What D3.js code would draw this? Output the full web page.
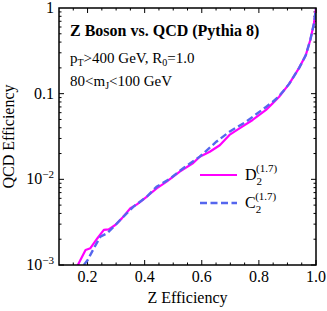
<!DOCTYPE html>
<html><head><meta charset="utf-8">
<script src="https://cdn.jsdelivr.net/npm/d3@7"></script>
<style>body{margin:0;background:#fff}svg{display:block}</style>
</head><body><svg id="c" width="327" height="311"></svg>
<script>
// Z efficiency (x) and QCD efficiency (y)
const d2X = [0.166,0.193,0.21,0.234,0.257,0.274,0.297,0.32,0.35,0.373,0.408,0.442,0.477,0.523,0.57,0.593,0.628,0.663,0.697,0.732,0.778,0.825,0.848,0.871,0.906,0.941,0.964,0.98,0.993,1.0];
const d2Y = [1.0e-3,1.5e-3,1.57e-3,2.04e-3,2.57e-3,2.61e-3,2.93e-3,3.5e-3,4.6e-3,5.1e-3,6.3e-3,7.85e-3,9.4e-3,1.23e-2,1.55e-2,1.84e-2,2.1e-2,2.5e-2,3.3e-2,3.94e-2,4.93e-2,6.45e-2,7.7e-2,9.2e-2,0.13,0.2,0.28,0.423,0.662,1.0];
const c2X = [0.187,0.201,0.222,0.245,0.268,0.292,0.32,0.361,0.408,0.442,0.489,0.535,0.593,0.651,0.697,0.755,0.825,0.848,0.871,0.906,0.941,0.964,0.98,0.993,1.0];
const c2Y = [1.0e-3,1.15e-3,1.57e-3,2.14e-3,2.34e-3,2.8e-3,3.5e-3,4.8e-3,6.3e-3,8.2e-3,1.02e-2,1.35e-2,1.84e-2,2.75e-2,3.6e-2,4.7e-2,7.0e-2,8.0e-2,9.4e-2,0.13,0.2,0.28,0.423,0.662,1.0];
const xTicks = [0.2,0.4,0.6,0.8,1.0];
const xTickLabels = ["0.2","0.4","0.6","0.8","1.0"];
const yTicks = [1e-3,1e-2,0.1,1];
const yTickLabels = [["10","\u22123"],["10","\u22122"],["0.1",""],["1",""]];
const seriesNames = [["D","2","(1.7)"],["C","2","(1.7)"]];
const titleLines = ["Z Boson vs. QCD (Pythia 8)"];

const FF = "Liberation Serif";
const svg = d3.select("#c");
const L=59,R=316,T=8,B=265;
const x = d3.scaleLinear().domain([0.1,1.0]).range([L,R]);
const y = d3.scaleLog().domain([1e-3,1]).range([B,T]);

const g = svg.append("g");
const xMinor = d3.range(0.15,1.0001,0.05).map(v=>+v.toFixed(2));
xMinor.forEach(v=>{
  const major = xTicks.some(t=>Math.abs(t-v)<1e-6);
  const len = major?5:2.5;
  g.append("line").attr("x1",x(v)).attr("x2",x(v)).attr("y1",B).attr("y2",B-len).attr("stroke","#000").attr("stroke-width",1);
  g.append("line").attr("x1",x(v)).attr("x2",x(v)).attr("y1",T).attr("y2",T+len).attr("stroke","#000").attr("stroke-width",1);
});
const yMinor = [];
[1e-3,1e-2,1e-1].forEach(d=>{for(let k=1;k<10;k++) yMinor.push(d*k);});
yMinor.forEach(v=>{
  const major = yTicks.some(t=>Math.abs(t-v)/t<1e-6);
  const len = major?5:2.5;
  g.append("line").attr("x1",L).attr("x2",L+len).attr("y1",y(v)).attr("y2",y(v)).attr("stroke","#000").attr("stroke-width",1);
  g.append("line").attr("x1",R).attr("x2",R-len).attr("y1",y(v)).attr("y2",y(v)).attr("stroke","#000").attr("stroke-width",1);
});

svg.append("clipPath").attr("id","clip").append("rect").attr("x",L).attr("y",T).attr("width",R-L).attr("height",B-T);
const line = d3.line().x(d=>x(d[0])).y(d=>y(d[1]));
svg.append("path").datum(d2X.map((v,i)=>[v,d2Y[i]])).attr("d",line).attr("fill","none")
  .attr("stroke","#ff00ff").attr("stroke-width",2.2).attr("stroke-linejoin","round").attr("clip-path","url(#clip)");
svg.append("path").datum(c2X.map((v,i)=>[v,c2Y[i]])).attr("d",line).attr("fill","none")
  .attr("stroke","#5566ee").attr("stroke-width",2.4).attr("stroke-dasharray","7,3.5").attr("clip-path","url(#clip)");

svg.append("rect").attr("x",L).attr("y",T).attr("width",R-L).attr("height",B-T).attr("fill","none").attr("stroke","#000").attr("stroke-width",1.5);

function txt(sel){ return sel.append("text").attr("font-family",FF).attr("fill","#000"); }

xTicks.forEach((v,i)=>{
  txt(svg).attr("x",x(v)).attr("y",282).attr("text-anchor","middle").attr("font-size",16).text(xTickLabels[i]);
});
yTicks.forEach((v,i)=>{
  const t = txt(svg).attr("x",54).attr("y",y(v)+5).attr("text-anchor","end").attr("font-size",16);
  t.append("tspan").text(yTickLabels[i][0]);
  if(yTickLabels[i][1]) t.append("tspan").attr("dy",-6).attr("font-size",11).text(yTickLabels[i][1]);
});
txt(svg).attr("x",(L+R)/2).attr("y",303).attr("text-anchor","middle").attr("font-size",16).text("Z Efficiency");
txt(svg).attr("transform",`translate(14,${(T+B)/2}) rotate(-90)`).attr("text-anchor","middle").attr("font-size",16).text("QCD Efficiency");

txt(svg).attr("x",70).attr("y",36).attr("font-size",16).attr("font-weight","bold").text(titleLines[0]);
const a2 = txt(svg).attr("x",70).attr("y",63).attr("font-size",15);
a2.append("tspan").text("p");
a2.append("tspan").attr("font-size",10).attr("dy",3).text("T");
a2.append("tspan").attr("dy",-3).text(">400 GeV, R");
a2.append("tspan").attr("font-size",10).attr("dy",3).text("0");
a2.append("tspan").attr("dy",-3).text("=1.0");
const a3 = txt(svg).attr("x",70).attr("y",86).attr("font-size",15);
a3.append("tspan").text("80<m");
a3.append("tspan").attr("font-size",10).attr("dy",3).text("J");
a3.append("tspan").attr("dy",-3).text("<100 GeV");

const legY=[175,203];
seriesNames.forEach((s,i)=>{
  svg.append("line").attr("x1",200).attr("x2",237).attr("y1",legY[i]).attr("y2",legY[i])
    .attr("stroke",i==0?"#ff00ff":"#5566ee").attr("stroke-width",i==0?2.2:2.4).attr("stroke-dasharray",i==0?null:"7,3.5");
  const t = txt(svg).attr("x",245).attr("y",legY[i]+5).attr("font-size",16);
  t.append("tspan").text(s[0]);
  t.append("tspan").attr("font-size",11).attr("dy",5).text(s[1]);
  t.append("tspan").attr("font-size",11).attr("dx",-6).attr("dy",-13).text(s[2]);
});
</script></body></html>
